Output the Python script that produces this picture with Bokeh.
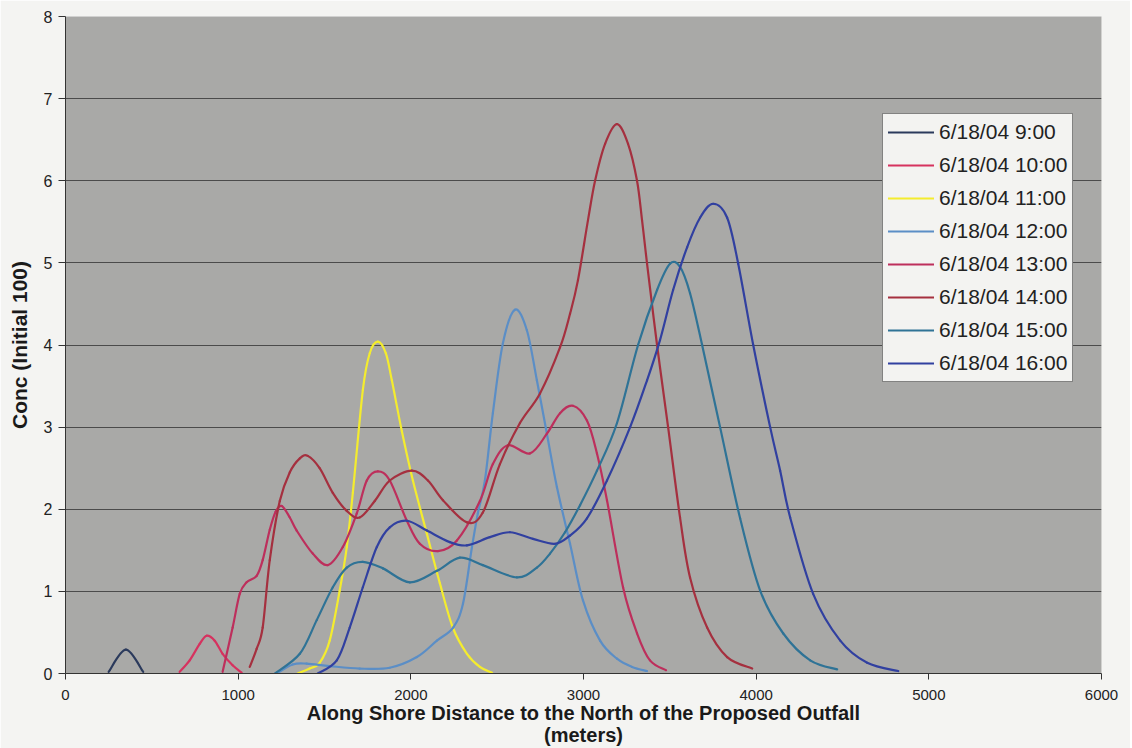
from bokeh.plotting import figure
from bokeh.models import Range1d, FixedTicker, Legend, LegendItem, ColumnDataSource
from bokeh.embed import file_html
from bokeh.resources import INLINE

# ---------------- data ----------------
series_names = ["6/18/04 9:00", "6/18/04 10:00", "6/18/04 11:00", "6/18/04 12:00",
                "6/18/04 13:00", "6/18/04 14:00", "6/18/04 15:00", "6/18/04 16:00"]

x_0900 = [250, 350, 450]
c_0900 = [0.02, 0.29, 0.02]

x_1000 = [661, 719, 777, 817, 864, 910, 968, 1020]
c_1000 = [0.02, 0.16, 0.36, 0.46, 0.40, 0.24, 0.10, 0.01]

x_1100 = [1345, 1414, 1472, 1530, 1588, 1629, 1664, 1722, 1762, 1809, 1855, 1890,
          1948, 2012, 2093, 2168, 2243, 2325, 2400, 2470]
c_1100 = [0.0, 0.06, 0.13, 0.4, 1.01, 1.54, 2.2, 3.45, 3.9, 4.04, 3.9, 3.57,
          2.95, 2.35, 1.7, 1.1, 0.56, 0.24, 0.08, 0.01]

x_1200 = [1223, 1316, 1397, 1530, 1704, 1878, 2035, 2151, 2245, 2302, 2354, 2388, 2429,
          2475, 2533, 2603, 2672, 2730, 2788, 2846, 2922, 2997, 3096, 3194, 3281, 3368]
c_1200 = [0.0, 0.11, 0.12, 0.09, 0.06, 0.07, 0.2, 0.4, 0.56, 0.85, 1.54, 1.95, 2.35,
          3.17, 4.02, 4.43, 4.18, 3.57, 2.92, 2.27, 1.58, 0.89, 0.4, 0.18, 0.08, 0.03]

x_1300 = [910, 968, 1009, 1049, 1107, 1142, 1183, 1217, 1252, 1299,
          1339, 1432, 1519, 1606, 1687, 1745, 1809, 1878, 1977, 2052,
          2157, 2267, 2400, 2475, 2562, 2690, 2788, 2864, 2939, 3020,
          3078, 3136, 3229, 3310, 3385, 3478]
c_1300 = [0.02, 0.56, 0.97, 1.11, 1.19, 1.38, 1.75, 1.97, 2.04, 1.9,
          1.74, 1.46, 1.32, 1.54, 1.95, 2.35, 2.46, 2.35, 1.86, 1.58,
          1.49, 1.62, 2.1, 2.55, 2.78, 2.68, 2.92, 3.17, 3.26, 3.08,
          2.68, 2.11, 1.05, 0.49, 0.16, 0.04]

x_1400 = [1067, 1107, 1142, 1183, 1241, 1299, 1357, 1403, 1472, 1548, 1629, 1704,
          1791, 1878, 2006, 2099, 2186, 2325, 2417, 2516, 2632, 2748, 2864, 2922,
          2968, 3026, 3067, 3125, 3194, 3258, 3310, 3339, 3368, 3426, 3490, 3559,
          3617, 3716, 3832, 3977]
c_1400 = [0.08, 0.3, 0.56, 1.38, 2.1, 2.45, 2.62, 2.65, 2.5, 2.2, 1.98, 1.9,
          2.1, 2.35, 2.47, 2.35, 2.11, 1.84, 1.96, 2.55, 3.05, 3.41, 3.97, 4.38,
          4.79, 5.52, 6.0, 6.45, 6.69, 6.45, 6.0, 5.52, 4.99, 4.0, 3.0, 1.9,
          1.17, 0.56, 0.2, 0.06]

x_1500 = [1212, 1357, 1455, 1548, 1629, 1722, 1838, 1994, 2151, 2284, 2417, 2614,
          2730, 2806, 2893, 2980, 3078, 3194, 3316, 3426, 3501, 3559, 3617, 3687,
          3791, 3907, 4023, 4156, 4313, 4469]
c_1500 = [0.0, 0.24, 0.65, 1.05, 1.29, 1.36, 1.28, 1.11, 1.25, 1.41, 1.32, 1.17,
          1.29, 1.46, 1.72, 2.05, 2.47, 3.05, 4.0, 4.67, 4.99, 4.95, 4.63, 4.0,
          3.0, 1.89, 1.01, 0.49, 0.16, 0.05]

x_1600 = [1461, 1571, 1646, 1722, 1803, 1878, 1977, 2093, 2226, 2325, 2458, 2574,
          2707, 2835, 2922, 3020, 3136, 3270, 3368, 3443, 3519, 3600, 3675, 3751,
          3832, 3896, 3983, 4081, 4139, 4197, 4330, 4487, 4643, 4823]
c_1600 = [0.0, 0.16, 0.56, 1.05, 1.54, 1.78, 1.86, 1.74, 1.6, 1.56, 1.66, 1.72,
          1.64, 1.58, 1.68, 1.89, 2.35, 3.0, 3.57, 4.06, 4.67, 5.19, 5.55, 5.72,
          5.55, 4.99, 4.0, 3.0, 2.47, 1.9, 0.97, 0.4, 0.13, 0.03]

x_ticks = [0, 1000, 2000, 3000, 4000, 5000, 6000]
y_ticks = [0, 1, 2, 3, 4, 5, 6, 7, 8]

series_x = [x_0900, x_1000, x_1100, x_1200, x_1300, x_1400, x_1500, x_1600]
series_c = [c_0900, c_1000, c_1100, c_1200, c_1300, c_1400, c_1500, c_1600]
colors = ["#2b3a5c", "#d6325f", "#f4ec2e", "#5b8ec6",
          "#bd2f5c", "#a5303f", "#2f7396", "#3140a0"]


def smoothed_segments(xs, ys):
    """Excel-style 'smoothed line': a cubic Bezier segment between each pair of
    consecutive data points (Catmull-Rom tangents)."""
    n = len(xs)
    d = {k: [] for k in ("x0", "y0", "x1", "y1", "cx0", "cy0", "cx1", "cy1")}
    for i in range(n - 1):
        xa, ya = (xs[i - 1], ys[i - 1]) if i > 0 else (xs[i], ys[i])
        xb, yb = (xs[i + 2], ys[i + 2]) if i + 2 < n else (xs[i + 1], ys[i + 1])
        d["x0"].append(xs[i]); d["y0"].append(ys[i])
        d["x1"].append(xs[i + 1]); d["y1"].append(ys[i + 1])
        d["cx0"].append(xs[i] + (xs[i + 1] - xa) / 6.0)
        d["cy0"].append(ys[i] + (ys[i + 1] - ya) / 6.0)
        d["cx1"].append(xs[i + 1] - (xb - xs[i]) / 6.0)
        d["cy1"].append(ys[i + 1] - (yb - ys[i]) / 6.0)
    return ColumnDataSource(d)


# ---------------- figure ----------------
FONT = "Liberation Sans"
p = figure(frame_width=1036, frame_height=657,
           x_range=Range1d(0, 6000), y_range=Range1d(0, 8),
           output_backend="svg", toolbar_location=None,
           min_border_left=65, min_border_right=29,
           min_border_top=16, min_border_bottom=74)

p.background_fill_color = "#a9a9a7"
p.border_fill_color = "#f4f4f2"
p.outline_line_color = None
p.xgrid.visible = False
p.ygrid.grid_line_color = "#4b4b4b"
p.ygrid.grid_line_width = 1

p.xaxis.ticker = FixedTicker(ticks=x_ticks)
p.yaxis.ticker = FixedTicker(ticks=y_ticks)
for ax in (p.xaxis[0], p.yaxis[0]):
    ax.axis_line_color = "#333333"
    ax.major_tick_line_color = "#333333"
    ax.major_tick_in = 0
    ax.major_tick_out = 6
    ax.minor_tick_line_color = None
    ax.major_label_text_font = FONT
    ax.major_label_text_font_size = "15px"
    ax.major_label_text_color = "#222222"
    ax.axis_label_text_font = FONT
    ax.axis_label_text_font_style = "bold"
    ax.axis_label_text_color = "#1a1a1a"

p.xaxis.major_label_standoff = 10
p.xaxis.axis_label = "Along Shore Distance to the North of the Proposed Outfall\n(meters)"
p.xaxis.axis_label_text_font_size = "20px"
p.xaxis.axis_label_text_line_height = 1.0
p.xaxis.axis_label_standoff = -1

p.yaxis.major_tick_out = 7
p.yaxis.major_label_standoff = 6
p.yaxis.major_label_text_font_size = "16px"
p.yaxis.axis_label = "Conc (Initial 100)"
p.yaxis.axis_label_text_font_size = "21px"
p.yaxis.axis_label_standoff = 10

items = []
for name, xs, cs, col in zip(series_names, series_x, series_c, colors):
    r = p.bezier(x0="x0", y0="y0", x1="x1", y1="y1", cx0="cx0", cy0="cy0",
                 cx1="cx1", cy1="cy1", source=smoothed_segments(xs, cs),
                 line_color=col, line_width=2.2, line_cap="round")
    items.append(LegendItem(label=name, renderers=[r], index=0))

legend = Legend(items=items, location=(817, 291), margin=0,
                padding=5, spacing=7, glyph_width=46, glyph_height=26,
                label_height=26, label_standoff=5,
                label_text_font=FONT, label_text_font_size="21px",
                label_text_color="#222222",
                border_line_color="#111111", border_line_width=1,
                background_fill_color="#f3f3f1", background_fill_alpha=1.0)
p.add_layout(legend)

open("out.html", "w").write(file_html(p, INLINE))
